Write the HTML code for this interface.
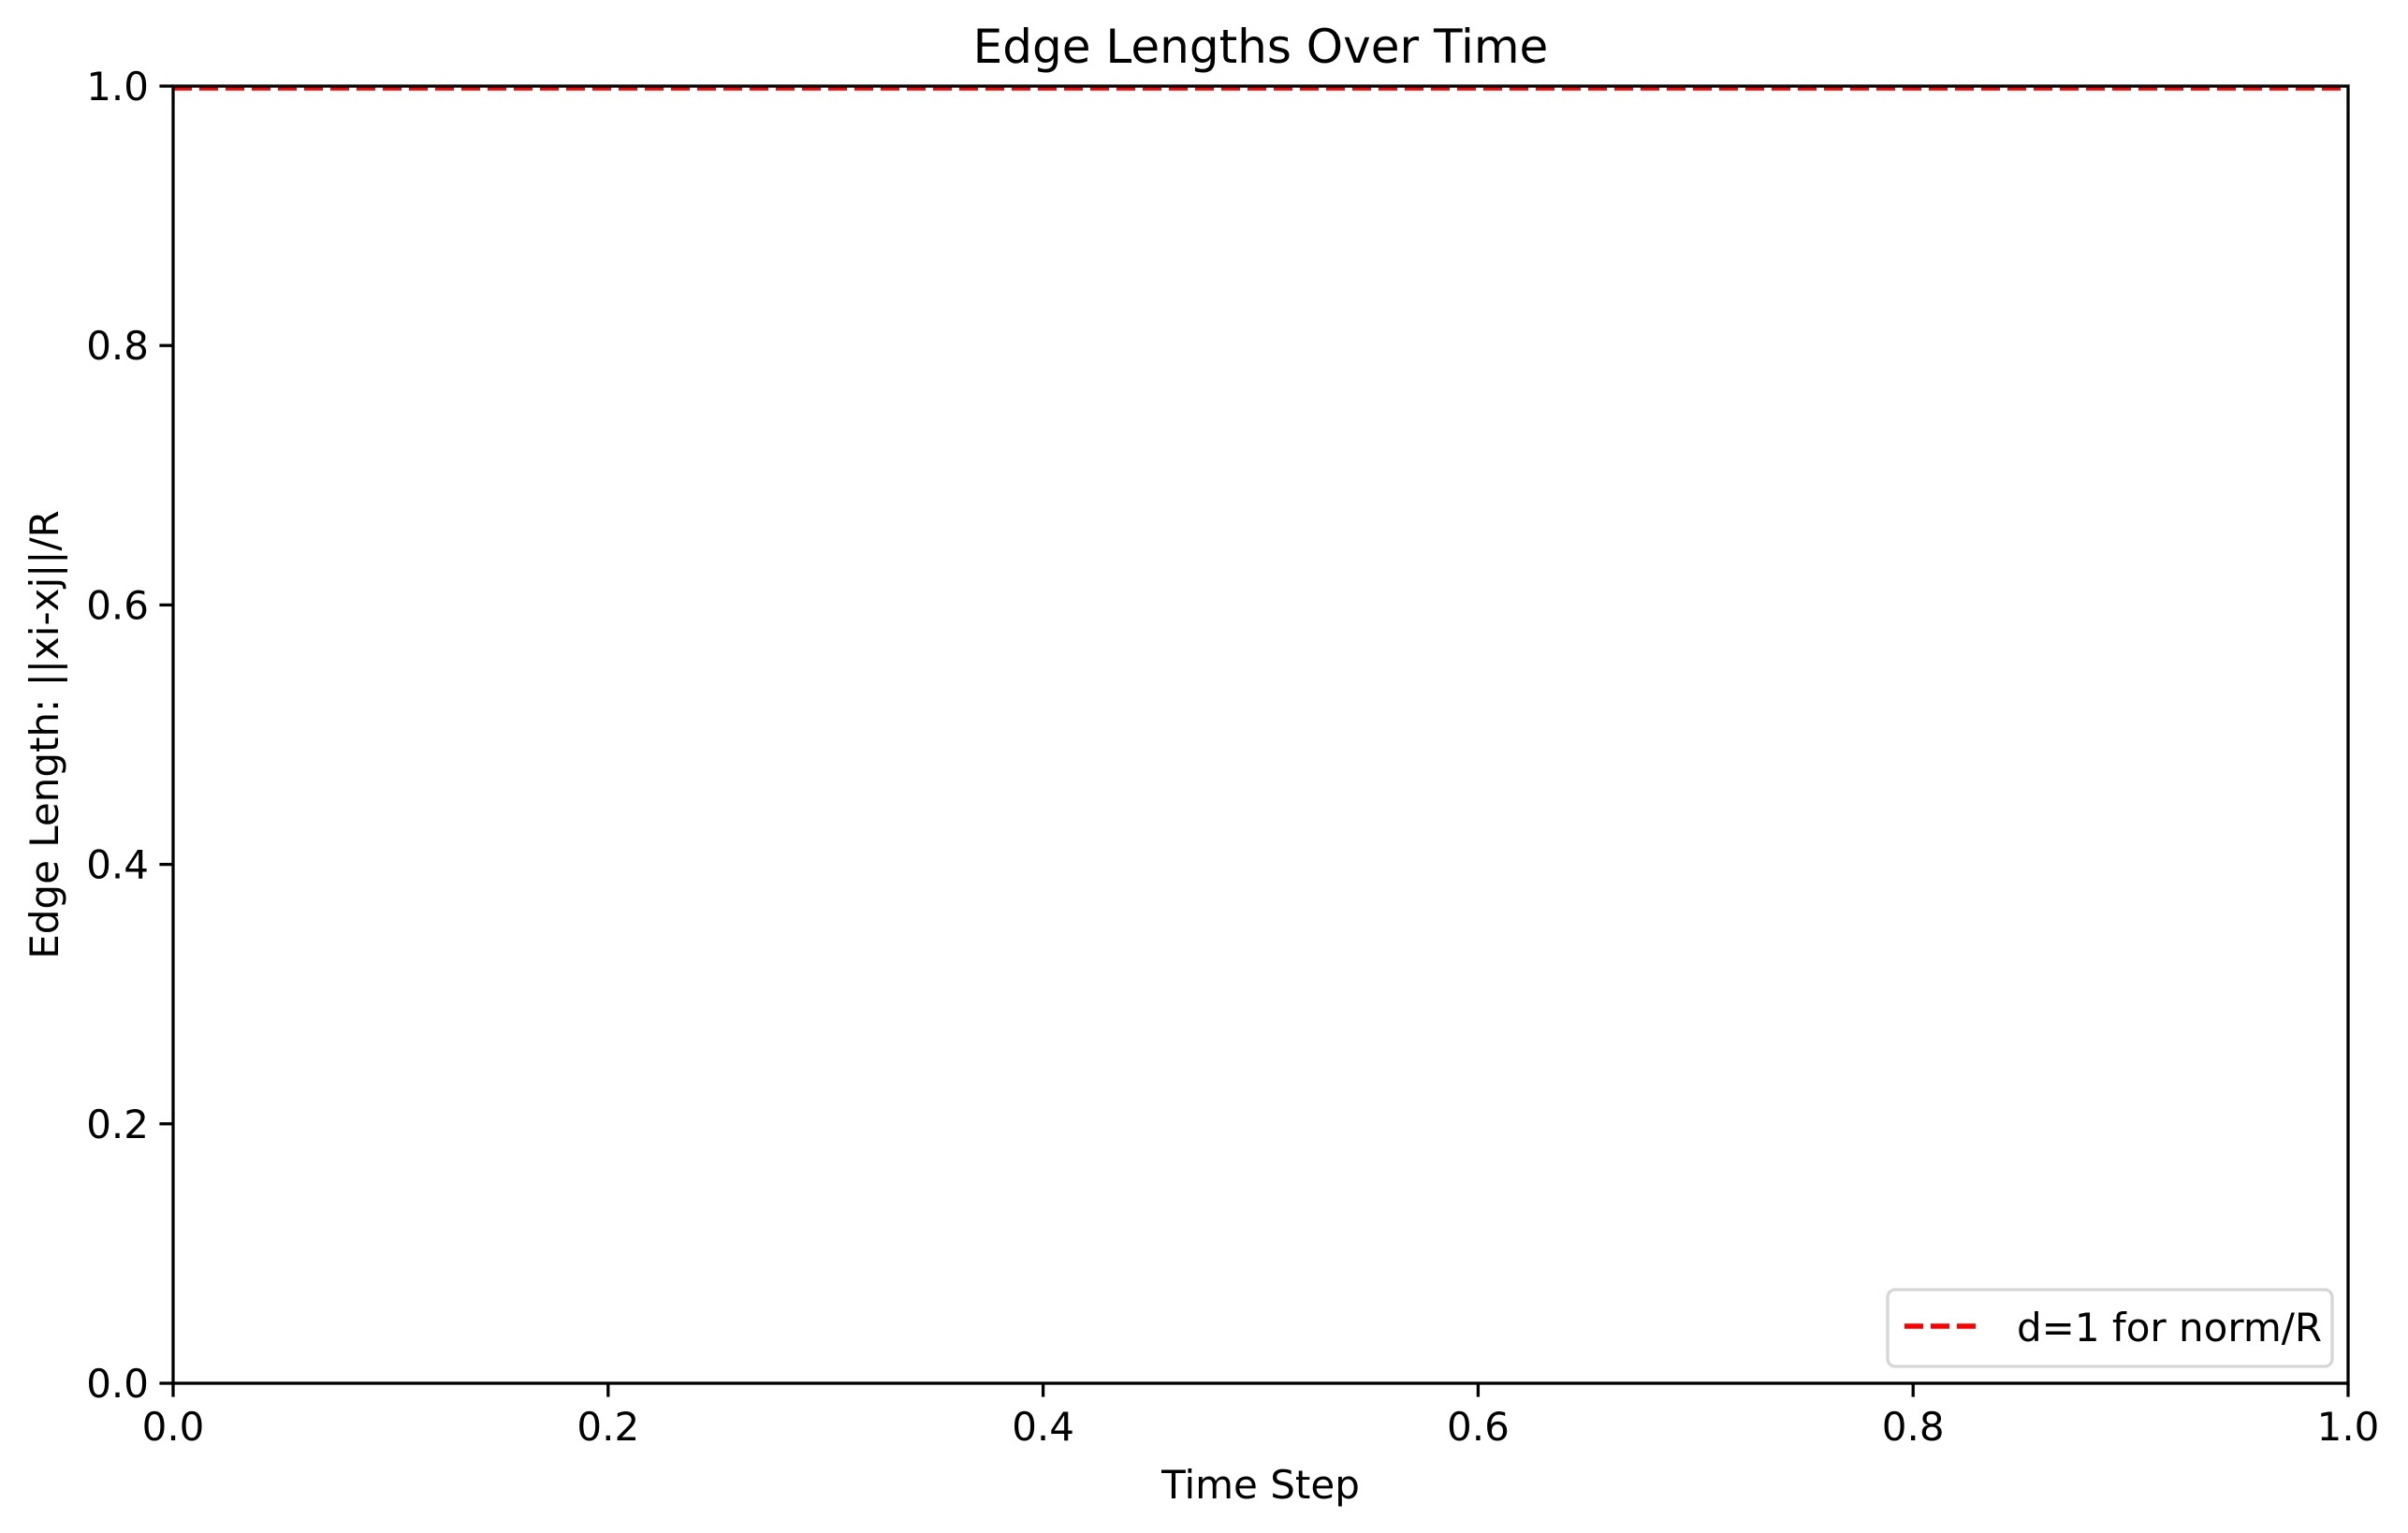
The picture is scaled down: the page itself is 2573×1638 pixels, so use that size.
<!DOCTYPE html>
<html><head><meta charset="utf-8"><style>
html,body{margin:0;padding:0;background:#fff;}
svg{display:block;font-family:"DejaVu Sans","Liberation Sans",sans-serif;}
</style></head><body>
<svg id="chart" width="2573" height="1638" viewBox="0 0 2573 1638">
<rect width="2573" height="1638" fill="#fff"/>
<text x="1347" y="67" font-size="50" text-anchor="middle">Edge Lengths Over Time</text>
<g id="ticks"></g>
<line id="refline" stroke="#ff0000" stroke-width="5.5" stroke-dasharray="20,8"/>
<rect x="185" y="92" width="2324" height="1386" fill="none" stroke="#000" stroke-width="3.3"/>
<text x="1347" y="1601" font-size="42" text-anchor="middle">Time Step</text>
<text transform="translate(62,785) rotate(-90)" font-size="42" text-anchor="middle">Edge Length: ||xi-xj||/R</text>
<g>
<rect x="2017" y="1378" width="475" height="82" rx="8" fill="#fff" fill-opacity="0.8" stroke="#d6d6d6" stroke-width="3.3"/>
<line x1="2035" y1="1417" x2="2119" y2="1417" stroke="#ff0000" stroke-width="5.5" stroke-dasharray="20,8"/>
<text x="2155" y="1433" font-size="42">d=1 for norm/R</text>
</g>
</svg>
<script>
const xTicks = [0.0, 0.2, 0.4, 0.6, 0.8, 1.0];
const yTicks = [0.0, 0.2, 0.4, 0.6, 0.8, 1.0];
const refValue = [1.0];
const L=185,R=2509,T=92,B=1478;
const xs=v=>L+(v-0)/(1-0)*(R-L);
const ys=v=>B-(v-0)/(1-0)*(B-T);
const NS="http://www.w3.org/2000/svg";
const g=document.getElementById('ticks');
xTicks.forEach(v=>{
  const l=document.createElementNS(NS,'line');
  l.setAttribute('x1',xs(v));l.setAttribute('x2',xs(v));l.setAttribute('y1',B);l.setAttribute('y2',B+14.6);
  l.setAttribute('stroke','#000');l.setAttribute('stroke-width','3.3');
  
  
  g.appendChild(l);
  const t=document.createElementNS(NS,'text');
  t.setAttribute('x',xs(v));t.setAttribute('y',B+61);t.setAttribute('font-size','42');t.setAttribute('text-anchor','middle');
  t.textContent=v.toFixed(1);
  
  
  g.appendChild(t);
});
yTicks.forEach(v=>{
  const l=document.createElementNS(NS,'line');
  l.setAttribute('x1',L-14.6);l.setAttribute('x2',L);l.setAttribute('y1',ys(v));l.setAttribute('y2',ys(v));
  l.setAttribute('stroke','#000');l.setAttribute('stroke-width','3.3');
  
  
  g.appendChild(l);
  const t=document.createElementNS(NS,'text');
  t.setAttribute('x',L-26);t.setAttribute('y',ys(v)+15);t.setAttribute('font-size','42');t.setAttribute('text-anchor','end');
  t.textContent=v.toFixed(1);
  
  
  g.appendChild(t);
});
const rl=document.getElementById('refline');
rl.setAttribute('x1',L);rl.setAttribute('x2',R);
rl.setAttribute('y1',ys(refValue[0])+2);rl.setAttribute('y2',ys(refValue[0])+2);
</script>
</body></html>
